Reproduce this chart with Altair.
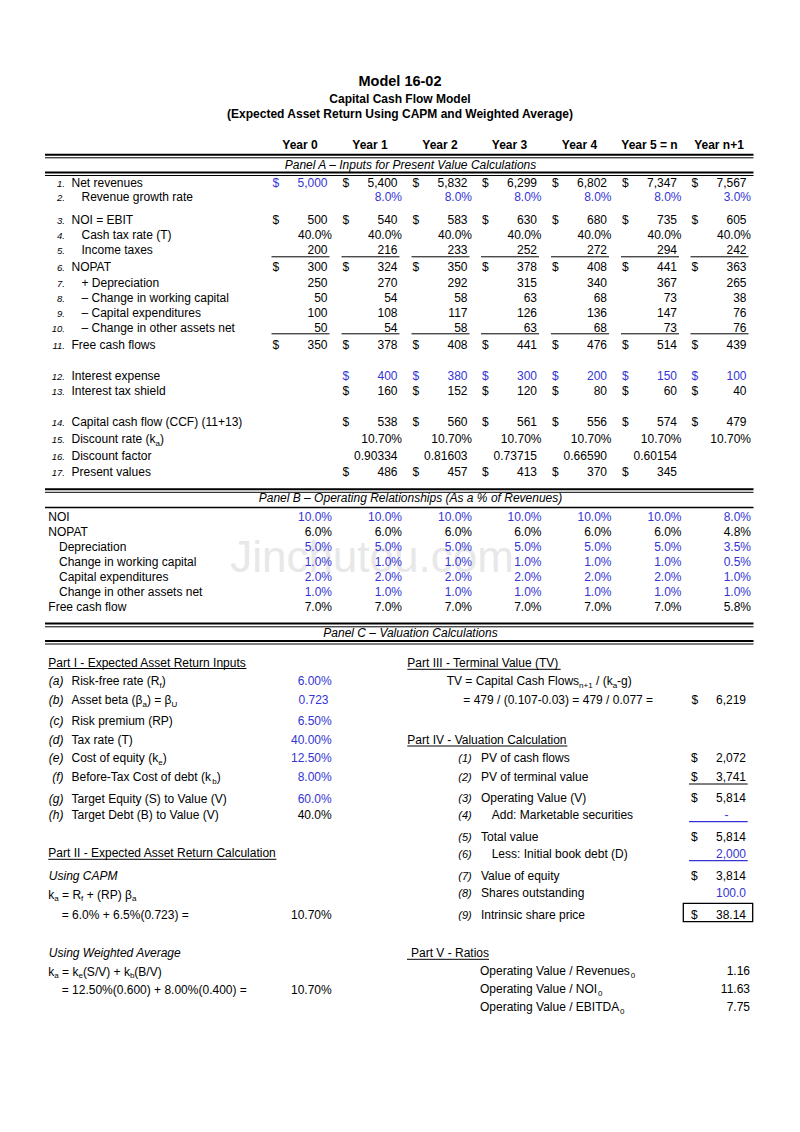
import altair as alt
import pandas as pd

FONT = "Liberation Sans"
BLUE = "#3434d4"
BLACK = "#000000"

# ------------------------------------------------------------------ data
title_lines = ["Model 16-02", "Capital Cash Flow Model",
               "(Expected Asset Return Using CAPM and Weighted Average)"]
years = ["Year 0", "Year 1", "Year 2", "Year 3", "Year 4", "Year 5 = n", "Year n+1"]
panel_titles = ["Panel A – Inputs for Present Value Calculations",
                "Panel B – Operating Relationships (As a % of Revenues)",
                "Panel C – Valuation Calculations"]

net_revenues = [5000, 5400, 5832, 6299, 6802, 7347, 7567]
revenue_growth = [None, 8.0, 8.0, 8.0, 8.0, 8.0, 3.0]
noi = [500, 540, 583, 630, 680, 735, 605]
cash_tax_rate = [40.0, 40.0, 40.0, 40.0, 40.0, 40.0, 40.0]
income_taxes = [200, 216, 233, 252, 272, 294, 242]
nopat = [300, 324, 350, 378, 408, 441, 363]
depreciation = [250, 270, 292, 315, 340, 367, 265]
chg_working_capital = [50, 54, 58, 63, 68, 73, 38]
capital_expenditures = [100, 108, 117, 126, 136, 147, 76]
chg_other_assets = [50, 54, 58, 63, 68, 73, 76]
free_cash_flows = [350, 378, 408, 441, 476, 514, 439]
interest_expense = [None, 400, 380, 300, 200, 150, 100]
interest_tax_shield = [None, 160, 152, 120, 80, 60, 40]
capital_cash_flow = [None, 538, 560, 561, 556, 574, 479]
discount_rate = [None, 10.70, 10.70, 10.70, 10.70, 10.70, 10.70]
discount_factor = [None, 0.90334, 0.81603, 0.73715, 0.66590, 0.60154, None]
present_values = [None, 486, 457, 413, 370, 345, None]

b_labels = ["NOI", "NOPAT", "Depreciation", "Change in working capital",
            "Capital expenditures", "Change in other assets net", "Free cash flow"]
b_indent = [False, False, True, True, True, True, False]
b_noi = [10.0, 10.0, 10.0, 10.0, 10.0, 10.0, 8.0]
b_nopat = [6.0, 6.0, 6.0, 6.0, 6.0, 6.0, 4.8]
b_depreciation = [5.0, 5.0, 5.0, 5.0, 5.0, 5.0, 3.5]
b_working_capital = [1.0, 1.0, 1.0, 1.0, 1.0, 1.0, 0.5]
b_capex = [2.0, 2.0, 2.0, 2.0, 2.0, 2.0, 1.0]
b_other_assets = [1.0, 1.0, 1.0, 1.0, 1.0, 1.0, 1.0]
b_fcf = [7.0, 7.0, 7.0, 7.0, 7.0, 7.0, 5.8]
b_values = [b_noi, b_nopat, b_depreciation, b_working_capital, b_capex, b_other_assets, b_fcf]
b_blue = [True, False, True, True, True, True, False]

part_titles = ["Part I - Expected Asset Return Inputs", "Part II - Expected Asset Return Calculation",
               "Part III - Terminal Value (TV)", "Part IV - Valuation Calculation", "Part V - Ratios"]
input_letters = ["(a)", "(b)", "(c)", "(d)", "(e)", "(f)", "(g)", "(h)"]
input_labels = [
    [("Risk-free rate (R", 0), ("f", 1), (")", 0)],
    [("Asset beta (β", 0), ("a", 1), (") = β", 0), ("U", 1)],
    [("Risk premium (RP)", 0)],
    [("Tax rate (T)", 0)],
    [("Cost of equity (k", 0), ("e", 1), (")", 0)],
    [("Before-Tax Cost of debt (k", 0), ("b", 1), (")", 0)],
    [("Target Equity (S) to Value (V)", 0)],
    [("Target Debt (B) to Value (V)", 0)],
]
input_values = ["6.00%", "0.723", "6.50%", "40.00%", "12.50%", "8.00%", "60.0%", "40.0%"]
input_blue = [True, True, True, True, True, True, True, False]
ka_capm = "10.70%"
ka_wavg = "10.70%"
terminal_value = 6219

val_nums = ["(1)", "(2)", "(3)", "(4)", "(5)", "(6)", "(7)", "(8)", "(9)"]
val_labels = ["PV of cash flows", "PV of terminal value", "Operating Value (V)",
              "Add: Marketable securities", "Total value", "Less: Initial book debt (D)",
              "Value of equity", "Shares outstanding", "Intrinsic share price"]
val_values = ["2,072", "3,741", "5,814", "-", "5,814", "2,000", "3,814", "100.0", "38.14"]
val_dollar = [True, True, True, False, True, False, True, False, True]
val_blue = [False, False, False, True, False, True, False, True, False]
val_indent = [False, False, False, True, False, True, False, False, False]

ratio_labels = ["Revenues", "NOI", "EBITDA"]
ratio_values = ["1.16", "11.63", "7.75"]
watermark = "Jinchutou.com"

# ------------------------------------------------------------------ text metrics (Arial / Liberation Sans)
W = {' ': 278, '!': 278, '"': 355, '$': 556, '%': 889, '&': 667, "'": 191, '(': 333, ')': 333,
     '*': 389, '+': 584, ',': 278, '-': 333, '.': 278, '/': 278, ':': 278, ';': 278, '=': 584,
     'β': 575, '–': 556,
     'A': 667, 'B': 667, 'C': 722, 'D': 722, 'E': 667, 'F': 611, 'G': 778, 'H': 722, 'I': 278,
     'J': 500, 'K': 667, 'L': 556, 'M': 833, 'N': 722, 'O': 778, 'P': 667, 'Q': 778, 'R': 722,
     'S': 667, 'T': 611, 'U': 722, 'V': 667, 'W': 944, 'X': 667, 'Y': 667, 'Z': 611,
     'a': 556, 'b': 556, 'c': 500, 'd': 556, 'e': 556, 'f': 278, 'g': 556, 'h': 556, 'i': 222,
     'j': 222, 'k': 500, 'l': 222, 'm': 833, 'n': 556, 'o': 556, 'p': 556, 'q': 556, 'r': 333,
     's': 500, 't': 278, 'u': 556, 'v': 500, 'w': 722, 'x': 500, 'y': 500, 'z': 500}


def tw(s, size):
    return sum(W.get(ch, 556) for ch in s) / 1000.0 * size


texts = []
rules = []


def yb(yc):
    return yc + 4.0


def add(x, yc, t, color=BLACK, size=12, align="left", style="normal", weight="normal"):
    texts.append(dict(x=x, y=yb(yc), t=t, c=color, s=size, a=align, st=style, wt=weight))


def rich(x, yc, segs, color=BLACK, size=12, style="normal"):
    for t, sub in segs:
        sz = 8 if sub else size
        lead = len(t) - len(t.lstrip(" "))
        if t.strip():
            texts.append(dict(x=x + tw(t[:lead], sz), y=yb(yc) + (2.8 if sub else 0), t=t.strip(),
                              c=color, s=sz, a="left", st=style, wt="normal"))
        x += tw(t, sz)
    return x


def hline(x1, x2, y, w=1.0, color=BLACK):
    rules.append(dict(x=x1, x2=x2, y=y, c=color, w=w))


# ------------------------------------------------------------------ layout
R = [327.5, 397.5, 467.5, 537.0, 607.0, 677.0, 746.5]
LEFT, RIGHT = 45, 753.5

add(400, 82.3, title_lines[0], size=14.5, align="center", weight="bold")
add(400, 98.5, title_lines[1], align="center", weight="bold")
add(400, 113.5, title_lines[2], align="center", weight="bold")
for i, yr in enumerate(years):
    add(R[i] - 27.5, 145, yr, align="center", weight="bold")

hline(LEFT, RIGHT, 154.8, 2); hline(LEFT, RIGHT, 157.8, 1)
add(410.5, 164.5, panel_titles[0], align="center", style="italic")
hline(LEFT, RIGHT, 172.5, 2); hline(LEFT, RIGHT, 175.5, 1)


def fmt(v, kind):
    if kind == "int":
        return f"{v:,.0f}"
    if kind == "pct1":
        return f"{v:.1f}%"
    if kind == "pct2":
        return f"{v:.2f}%"
    return f"{v:.5f}"


K, B = BLACK, BLUE
rows_a = [
    ("1.", [("Net revenues", 0)], False, net_revenues, "int", True, [B, K, K, K, K, K, K], 182.6),
    ("2.", [("Revenue growth rate", 0)], True, revenue_growth, "pct1", False, [B] * 7, 197.4),
    ("3.", [("NOI = EBIT", 0)], False, noi, "int", True, [K] * 7, 220.3),
    ("4.", [("Cash tax rate (T)", 0)], True, cash_tax_rate, "pct1", False, [K] * 7, 235.3),
    ("5.", [("Income taxes", 0)], True, income_taxes, "int", False, [K] * 7, 250.3),
    ("6.", [("NOPAT", 0)], False, nopat, "int", True, [K] * 7, 267.0),
    ("7.", [("+ Depreciation", 0)], True, depreciation, "int", False, [K] * 7, 282.7),
    ("8.", [("– Change in working capital", 0)], True, chg_working_capital, "int", False, [K] * 7, 297.8),
    ("9.", [("– Capital expenditures", 0)], True, capital_expenditures, "int", False, [K] * 7, 312.8),
    ("10.", [("– Change in other assets net", 0)], True, chg_other_assets, "int", False, [K] * 7, 327.8),
    ("11.", [("Free cash flows", 0)], False, free_cash_flows, "int", True, [K] * 7, 345.2),
    ("12.", [("Interest expense", 0)], False, interest_expense, "int", True, [B] * 7, 375.8),
    ("13.", [("Interest tax shield", 0)], False, interest_tax_shield, "int", True, [K] * 7, 390.8),
    ("14.", [("Capital cash flow (CCF) (11+13)", 0)], False, capital_cash_flow, "int", True, [K] * 7, 422.3),
    ("15.", [("Discount rate (k", 0), ("a", 1), (")", 0)], False, discount_rate, "pct2", False, [K] * 7, 439.0),
    ("16.", [("Discount factor", 0)], False, discount_factor, "dec5", False, [K] * 7, 456.3),
    ("17.", [("Present values", 0)], False, present_values, "int", True, [K] * 7, 471.5),
]
for num, segs, ind, vals, kind, dollar, cols, yc in rows_a:
    add(65, yc, num, size=9.5, align="right", style="italic")
    rich(81.5 if ind else 71.5, yc, segs)
    for i, v in enumerate(vals):
        if v is None:
            continue
        xr = R[i] + (4.5 if kind.startswith("pct") else 0)
        add(xr, yc, fmt(v, kind), color=cols[i], align="right")
        if dollar:
            add(R[i] - 55, yc, "$", color=cols[i])

for i in range(7):
    hline(R[i] - 56, R[i] + 2, 256.8, 1)
    hline(R[i] - 56, R[i] + 2, 333.8, 1)

# Panel B
hline(LEFT, RIGHT, 489.2, 2); hline(LEFT, RIGHT, 492.3, 1)
add(410.5, 498.0, panel_titles[1], align="center", style="italic")
hline(LEFT, RIGHT, 507.5, 1.3)
b_y = [516.7, 531.7, 546.7, 561.7, 576.7, 591.7, 606.7]
for lab, ind, vals, blue, yc in zip(b_labels, b_indent, b_values, b_blue, b_y):
    add(59 if ind else 48.3, yc, lab)
    for i, v in enumerate(vals):
        add(R[i] + 4.5, yc, fmt(v, "pct1"), color=BLUE if blue else BLACK, align="right")

# Panel C
hline(LEFT, RIGHT, 623.5, 2); hline(LEFT, RIGHT, 626.8, 1)
add(410.5, 632.5, panel_titles[2], align="center", style="italic")
hline(LEFT, RIGHT, 641.0, 2); hline(LEFT, RIGHT, 644.0, 1)


def part_title(x, yc, t):
    add(x, yc, t)
    hline(x, x + tw(t, 12), yc + 6.0, 1)


part_title(48.3, 662.5, part_titles[0])
in_y = [681.0, 700.0, 720.5, 740.0, 758.0, 776.7, 799.0, 814.5]
for let, segs, val, blue, yc in zip(input_letters, input_labels, input_values, input_blue, in_y):
    add(63.5, yc, let, align="right", style="italic")
    rich(71.5, yc, segs)
    add(328.5 if val == "0.723" else 331.7, yc, val, color=BLUE if blue else BLACK, align="right")

part_title(48.3, 853.3, part_titles[1])
add(48.8, 876.0, "Using CAPM", style="italic")
rich(48.3, 894.5, [("k", 0), ("a", 1), (" = R", 0), ("f", 1), (" + (RP) β", 0), ("a", 1)])
add(61.7, 915.0, "= 6.0% + 6.5%(0.723) =")
add(331.7, 915.0, ka_capm, align="right")
add(48.8, 953.3, "Using Weighted Average", style="italic")
rich(48.3, 971.5, [("k", 0), ("a", 1), (" = k", 0), ("e", 1), ("(S/V) + k", 0), ("b", 1), ("(B/V)", 0)])
add(61.7, 990.0, "= 12.50%(0.600) + 8.00%(0.400) =")
add(331.7, 990.0, ka_wavg, align="right")

part_title(407.3, 663.3, part_titles[2])
rich(446.7, 680.7, [("TV = Capital Cash Flows", 0), ("n+1", 1), (" / (k", 0), ("a", 1), ("-g)", 0)])
add(463.3, 700.0, "= 479 / (0.107-0.03) = 479 / 0.077 =")
add(691.5, 700.0, "$")
add(746, 700.0, f"{terminal_value:,.0f}", align="right")

part_title(407.3, 740.0, part_titles[3])
v_y = [757.7, 776.7, 798.3, 815.0, 836.7, 854.0, 875.7, 892.7, 915.0]
for n, lab, val, dol, blue, ind, yc in zip(val_nums, val_labels, val_values, val_dollar,
                                            val_blue, val_indent, v_y):
    add(471.7, yc, n, size=11, align="right", style="italic")
    add(491.7 if ind else 481, yc, lab)
    col = BLUE if blue else BLACK
    if val == "-":
        add(728.5, yc, val, color=col, align="right")
    else:
        add(746, yc, val, color=col, align="right")
    if dol:
        add(691, yc, "$")
hline(689, 747.7, 784.0, 1)
hline(689, 747.7, 821.7, 1.2, BLUE)
hline(689, 747.7, 860.7, 1.2, BLUE)
box = pd.DataFrame([dict(x=683.3, x2=752.7, y=903.3, y2=921.7)])

add(411, 953.3, part_titles[4])
hline(407, 411 + tw(part_titles[4], 12), 959.3, 1)
r_y = [970.7, 989.0, 1007.3]
for lab, val, yc in zip(ratio_labels, ratio_values, r_y):
    rich(480, yc, [("Operating Value / " + lab, 0), ("0", 1)])
    add(750, yc, val, align="right")

# ------------------------------------------------------------------ chart
XS = alt.Scale(domain=[8, 792], nice=False, zero=False)
YS = alt.Scale(domain=[8, 1124], nice=False, zero=False, reverse=True)
X = alt.X("x:Q", scale=XS, axis=None)
Y = alt.Y("y:Q", scale=YS, axis=None)

layers = []
wm = pd.DataFrame([dict(x=372, y=572, t=watermark)])
layers.append(alt.Chart(wm).mark_text(font=FONT, fontSize=44, align="center", baseline="alphabetic",
                                       color="#e8e8e8").encode(x=X, y=Y, text="t:N"))

rdf = pd.DataFrame(rules)
layers.append(alt.Chart(rdf).mark_rule().encode(
    x=X, x2="x2:Q", y=Y, color=alt.Color("c:N", scale=None),
    strokeWidth=alt.StrokeWidth("w:Q", scale=None)))
layers.append(alt.Chart(box).mark_rect(filled=False, color="black", strokeWidth=1.3).encode(
    x=X, x2="x2:Q", y=Y, y2="y2:Q"))

tdf = pd.DataFrame(texts)
for (a, st, wt), g in tdf.groupby(["a", "st", "wt"]):
    layers.append(alt.Chart(g.reset_index(drop=True)).mark_text(
        font=FONT, align=a, baseline="alphabetic", fontStyle=st, fontWeight=wt).encode(
        x=X, y=Y, text="t:N", color=alt.Color("c:N", scale=None),
        size=alt.Size("s:Q", scale=None)))

chart = alt.layer(*layers).properties(
    width=784, height=1116, padding=0, autosize="none", background="white"
).configure_view(stroke=None)

chart.save("out.html", embed_options={"renderer": "svg", "actions": False})
